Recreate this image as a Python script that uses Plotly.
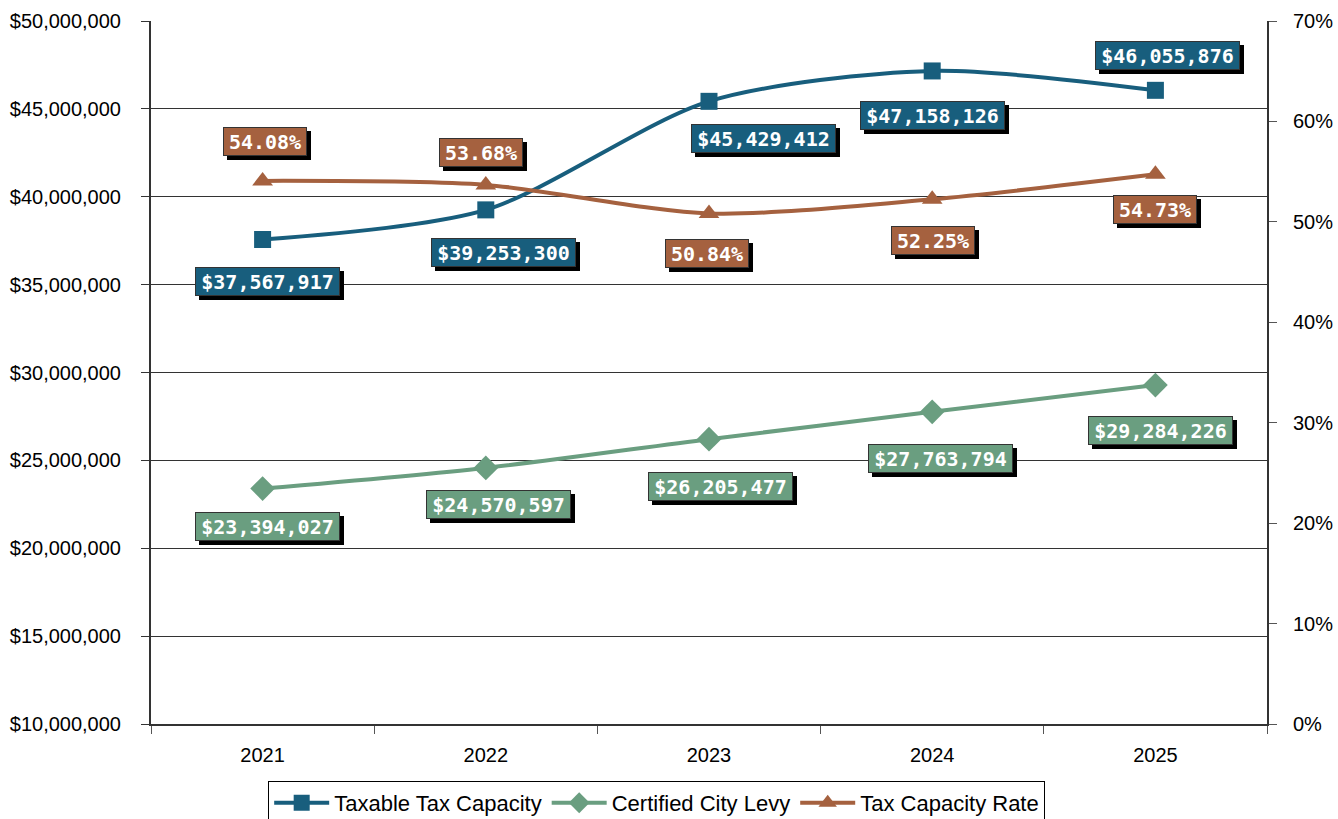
import plotly.graph_objects as go

# Daten
jahre = ["2021", "2022", "2023", "2024", "2025"]
steuerkapazitaet = [37567917, 39253300, 45429412, 47158126, 46055876]
stadtabgabe = [23394027, 24570597, 26205477, 27763794, 29284226]
steuersatz = [0.5408, 0.5368, 0.5084, 0.5225, 0.5473]

BLAU = "#185E7D"
GRUEN = "#6A9E80"
ORANGE = "#A5613F"
SCHRIFT = "Liberation Sans"
LABEL_SCHRIFT = "DejaVu Sans Mono"

fig = go.Figure()

fig.add_trace(
    go.Scatter(
        x=jahre,
        y=steuerkapazitaet,
        mode="lines+markers",
        name="Taxable Tax Capacity",
        line=dict(color=BLAU, width=4, shape="spline", smoothing=0.8),
        marker=dict(symbol="square", size=17, color=BLAU),
    )
)
fig.add_trace(
    go.Scatter(
        x=jahre,
        y=stadtabgabe,
        mode="lines+markers",
        name="Certified City Levy",
        line=dict(color=GRUEN, width=4, shape="spline", smoothing=0.8),
        marker=dict(symbol="diamond", size=19, color=GRUEN),
    )
)
fig.add_trace(
    go.Scatter(
        x=jahre,
        y=steuersatz,
        mode="lines+markers",
        name="Tax Capacity Rate",
        yaxis="y2",
        line=dict(color=ORANGE, width=4, shape="spline", smoothing=0.8),
        marker=dict(symbol="triangle-up", size=18, color=ORANGE),
    )
)


def beschriftung(i, y, text, farbe, versatz, breite, yref="y"):
    # x als Kategorie-Index, sonst wird "2021" als Index 2021 gelesen
    dx, dy = versatz
    # Schatten
    fig.add_annotation(
        x=i, y=y, yref=yref, text=text, showarrow=False,
        xshift=dx + 4, yshift=dy - 4, width=breite, height=27, borderpad=0,
        font=dict(family=LABEL_SCHRIFT, size=20, color="black", weight="bold"),
        bgcolor="black", bordercolor="black", borderwidth=1,
    )
    fig.add_annotation(
        x=i, y=y, yref=yref, text=text, showarrow=False,
        xshift=dx, yshift=dy, width=breite, height=27, borderpad=0,
        font=dict(family=LABEL_SCHRIFT, size=20, color="white", weight="bold"),
        bgcolor=farbe, bordercolor="#333333", borderwidth=1,
    )


# Versatz der Beschriftungen (x, y) in Pixeln
blau_versatz = [(5, -42), (18, -43), (54, -37), (0, -45), (12, 35)]
gruen_versatz = [(5, -38), (13, -37), (11, -47), (8, -47), (5, -45)]
orange_versatz = [(2, 39), (-5, 32), (-2, -40), (1, -41), (0, -35)]

for i in range(len(jahre)):
    beschriftung(i, steuerkapazitaet[i], f"${steuerkapazitaet[i]:,}", BLAU, blau_versatz[i], 143)
    beschriftung(i, stadtabgabe[i], f"${stadtabgabe[i]:,}", GRUEN, gruen_versatz[i], 143)
    beschriftung(i, steuersatz[i], f"{steuersatz[i] * 100:.2f}%", ORANGE, orange_versatz[i], 82,
                 yref="y2")

fig.update_layout(
    width=1338,
    height=819,
    margin=dict(l=151, r=71, t=21, b=95, autoexpand=False),
    plot_bgcolor="white",
    paper_bgcolor="white",
    font=dict(family=SCHRIFT, size=20, color="black"),
    xaxis=dict(
        type="category",
        range=[-0.5, 4.5],
        showline=True,
        linecolor="#333333",
        linewidth=2,
        ticks="outside",
        tickson="boundaries",
        ticklen=8,
        tickcolor="#555555",
        showgrid=False,
        ticklabelstandoff=12,
    ),
    yaxis=dict(
        range=[10000000, 50000000],
        dtick=5000000,
        tickformat="$,.0f",
        showline=True,
        linecolor="#333333",
        linewidth=2,
        ticks="outside",
        ticklen=8,
        tickcolor="#333333",
        showgrid=True,
        gridcolor="#333333",
        gridwidth=1,
        zeroline=False,
        ticklabelstandoff=16,
    ),
    yaxis2=dict(
        range=[0, 0.7],
        dtick=0.1,
        tickformat=".0%",
        overlaying="y",
        side="right",
        showline=True,
        linecolor="#333333",
        linewidth=2,
        ticks="outside",
        ticklen=8,
        tickcolor="#555555",
        showgrid=False,
        zeroline=False,
        ticklabelstandoff=12,
    ),
    legend=dict(
        orientation="h",
        x=0.105,
        xanchor="left",
        y=-0.081,
        yanchor="top",
        bordercolor="black",
        borderwidth=1,
        font=dict(family=SCHRIFT, size=22),
        itemwidth=55,
    ),
)

# Standard-Rand des body entfernen
fig.write_html(
    "out.html",
    config={"displayModeBar": False},
    post_script="document.body.style.margin='0';",
)
